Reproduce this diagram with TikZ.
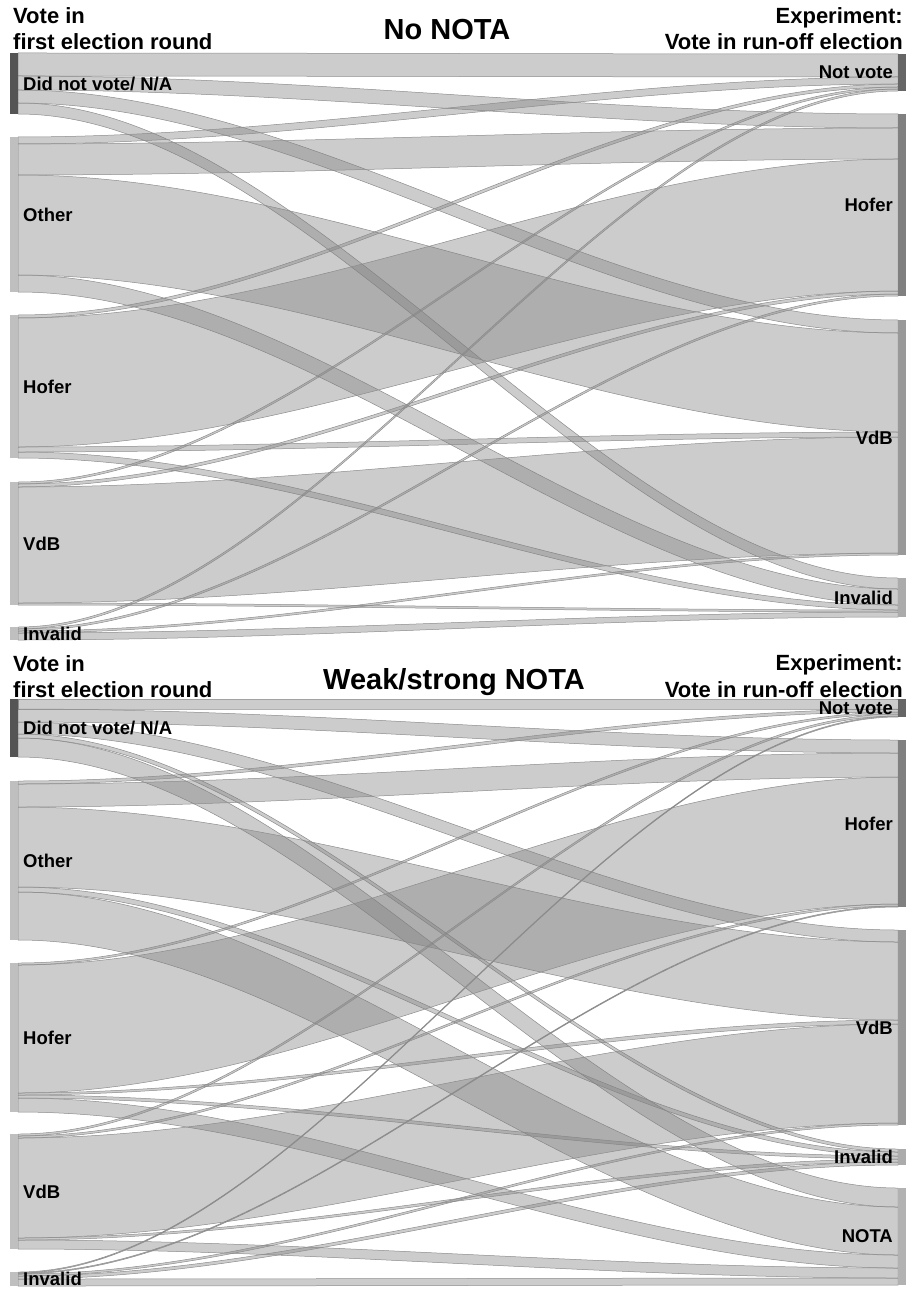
\documentclass[tikz,border=0pt]{standalone}
\usepackage{fontspec}
\setmainfont{Liberation Sans}
\newcommand{\ribbon}[4]{%
  \path[flow] (18,#1) .. controls (311,#1) and (605,#3) .. (898,#3)
    -- (898,#4) .. controls (605,#4) and (311,#2) .. (18,#2) -- cycle;}
\begin{document}
\begin{tikzpicture}
  [x=1pt,y=-1pt,
   flow/.style={fill=black!50,fill opacity=0.4,draw=black!45,line width=0.5pt},
   side/.style={font=\fontsize{18.5}{20}\selectfont\bfseries,inner sep=0pt},
   head/.style={font=\fontsize{22}{24}\selectfont\bfseries,inner sep=0pt},
   title/.style={font=\fontsize{29}{31}\selectfont\bfseries,inner sep=0pt}]
\useasboundingbox (0,0) rectangle (907,1289); % page size
%
% No NOTA
\foreach \a/\b/\c/\d in {53/76/54/77, 76/90/114/128, 90/103/320/333, 103/114/578/589,
    137/144/77/84, 144/175/128/159, 175/275/333/432, 275/292/589/605,
    315/318/84/87, 318/447/159/291, 447/452/432/437, 452/458/605/610,
    482/484/87/89, 484/487/291/294, 487/603/437/553, 603/605/610/612,
    627/629/89/91, 629/631/294/296, 631/633/553/555, 633/640/612/617}
  {\ribbon{\a}{\b}{\c}{\d}}
\foreach \t/\b/\c in {53/114/black!67, 137/292/black!25, 315/458/black!25,
    482/605/black!25, 627/640/black!25}
  {\fill[\c] (10,\t) rectangle (18,\b);}
\foreach \t/\b/\c in {54/91/black!60, 114/296/black!50, 320/555/black!40,
    578/617/black!33}
  {\fill[\c] (898,\t) rectangle (906,\b);}
\node[head,anchor=base west] (hL1) at (13,24) {Vote in};
\node[head,anchor=base west] (hL2) at (13,50) {first election round};
\node[head,anchor=base east] (hR1) at (903,24) {Experiment:};
\node[head,anchor=base east] (hR2) at (903,50) {Vote in run-off election};
\node[title,anchor=base] (t1) at (447,40) {No NOTA};
\node[side,anchor=west] (aDNV) at (23,83.5) {Did not vote/ N/A};
\node[side,anchor=west] (aOth) at (23,214.5) {Other};
\node[side,anchor=west] (aHof) at (23,386.5) {Hofer};
\node[side,anchor=west] (aVdB) at (23,543.5) {VdB};
\node[side,anchor=west] (aInv) at (23,633.5) {Invalid};
\node[side,anchor=east] (bNV) at (893,72.5) {Not vote};
\node[side,anchor=east] (bHof) at (893,205) {Hofer};
\node[side,anchor=east] (bVdB) at (893,437.5) {VdB};
\node[side,anchor=east] (bInv) at (893,597.5) {Invalid};
%
% Weak/strong NOTA
\foreach \a/\b/\c/\d in {699/709/699/709, 709/722/740/753, 722/734/930/942, 734/738/1149/1152, 738/757/1188/1207,
    781/784/709/712, 784/807/753/777, 807/887/942/1020, 887/892/1152/1156, 892/940/1207/1255,
    963/965/712/714, 965/1093/777/904, 1093/1095/1020/1024, 1095/1098/1156/1159, 1098/1112/1255/1268,
    1134/1136/714/716, 1136/1138/904/906, 1138/1238/1024/1123, 1238/1240/1159/1162, 1240/1249/1268/1278,
    1272/1273/716/717, 1273/1274/906/907, 1274/1276/1123/1125, 1276/1279/1162/1165, 1279/1286/1278/1285}
  {\ribbon{\a}{\b}{\c}{\d}}
\foreach \t/\b/\c in {699/757/black!67, 781/940/black!25, 963/1112/black!25,
    1134/1249/black!25, 1272/1286/black!25}
  {\fill[\c] (10,\t) rectangle (18,\b);}
\foreach \t/\b/\c in {699/717/black!60, 740/907/black!50, 930/1125/black!40,
    1149/1165/black!33, 1188/1285/black!30}
  {\fill[\c] (898,\t) rectangle (906,\b);}
\node[head,anchor=base west] (hL3) at (13,671) {Vote in};
\node[head,anchor=base west] (hL4) at (13,697) {first election round};
\node[head,anchor=base east] (hR3) at (903,670) {Experiment:};
\node[head,anchor=base east] (hR4) at (903,697) {Vote in run-off election};
\node[title,anchor=base] (t2) at (454,689) {Weak/strong NOTA};
\node[side,anchor=west] (cDNV) at (23,728) {Did not vote/ N/A};
\node[side,anchor=west] (cOth) at (23,860.5) {Other};
\node[side,anchor=west] (cHof) at (23,1037.5) {Hofer};
\node[side,anchor=west] (cVdB) at (23,1191.5) {VdB};
\node[side,anchor=west] (cInv) at (23,1279) {Invalid};
\node[side,anchor=east] (dNV) at (893,708) {Not vote};
\node[side,anchor=east] (dHof) at (893,823.5) {Hofer};
\node[side,anchor=east] (dVdB) at (893,1027.5) {VdB};
\node[side,anchor=east] (dInv) at (893,1157) {Invalid};
\node[side,anchor=east] (dNOTA) at (893,1236.5) {NOTA};
\end{tikzpicture}
\end{document}
